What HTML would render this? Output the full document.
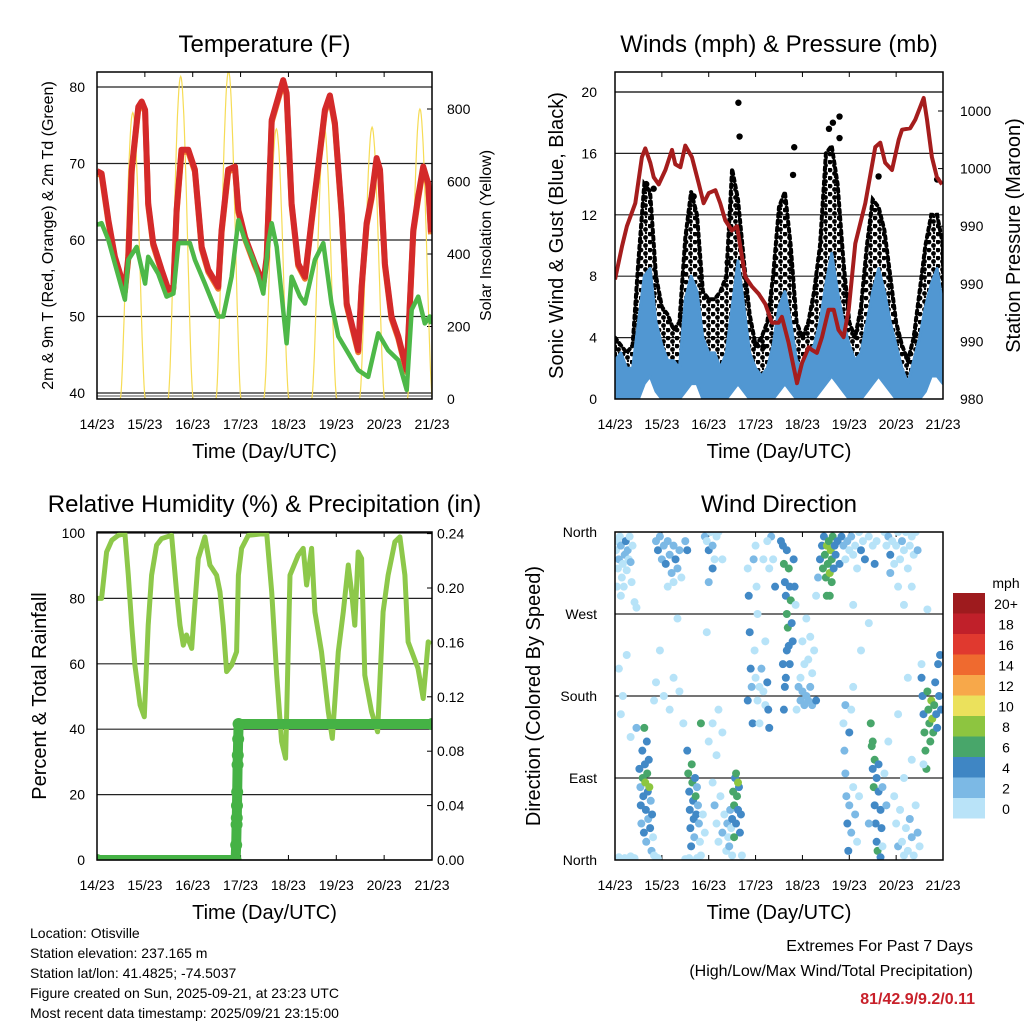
<!DOCTYPE html>
<html><head><meta charset="utf-8"><style>
html,body{margin:0;padding:0;background:#fff}
svg{display:block;font-family:"Liberation Sans",sans-serif}
</style></head><body>
<svg id="c" width="1024" height="1024" viewBox="0 0 1024 1024">
<defs>
<pattern id="dots" width="9" height="8" patternUnits="userSpaceOnUse"><circle cx="2" cy="2" r="2.4" fill="#000"/><circle cx="6.5" cy="5.5" r="2.4" fill="#000"/><circle cx="7" cy="1" r="1.2" fill="#000"/></pattern>
<clipPath id="cp1"><rect x="97" y="72" width="335" height="327"/></clipPath>
<clipPath id="cp2"><rect x="615" y="72" width="328" height="327"/></clipPath>
<clipPath id="cp3"><rect x="97" y="532" width="335" height="328"/></clipPath>
<clipPath id="cp4"><rect x="615" y="532" width="328" height="328"/></clipPath>
</defs>
</svg>
<script>
// ---------- DATA ----------
const dayLabels=["14/23","15/23","16/23","17/23","18/23","19/23","20/23","21/23"];
const tempHours=[0,2.3,5.7,9.0,14.0,15.7,17.4,20.7,22.4,24.1,25.7,28.2,32.4,35.8,38.3,39.9,42.4,45.8,49.1,52.5,55.8,60.8,62.5,65.8,69.2,70.9,74.2,79.2,83.4,85.1,87.6,93.4,95.1,97.6,100.9,104.3,107.6,110.1,114.3,116.8,119.3,122.7,125.2,127.7,131.0,132.7,135.2,137.7,140.2,141.9,144.4,147.7,151.1,155.3,158.6,161.1,163.6,166.1,167.5];
const tempValues=[69,68.7,62.6,57.8,53.5,57.8,69.2,77.4,78.1,77.0,64.8,59.6,56.1,53.5,53.9,63.9,71.8,71.8,69.2,59.1,56.1,53.9,61.3,69.2,69.6,63.9,60.4,56.9,54.3,57.8,75.7,80.9,79.2,64.8,56.9,55.2,62.6,67.8,77.0,78.9,75.3,63.5,51.7,49.1,45.6,53.9,62.2,65.7,70.7,69.2,56.9,50.0,47.4,43.0,61.3,65.7,69.6,67.4,61];
const dewHours=[0,2.3,5.7,9.0,14.0,15.7,19.9,24.1,25.7,30.7,34.9,38.3,40.8,46.6,49.1,54.1,60.8,63.3,67.5,70.9,74.2,79.2,83.4,85.9,87.6,90.1,95.1,97.6,101.8,104.3,109.3,113.5,117.6,121.0,126.0,131.0,136.0,141.0,146.0,151.1,155.3,157.8,161.1,164.4,166.9,167.5];
const dewValues=[62,62.2,60.0,56.9,52.2,57.4,59.1,54.3,57.8,55.6,52.6,53.0,59.6,59.6,57.4,54.3,50.0,50.0,55.2,62.6,60.0,56.9,53.0,59.6,62.2,59.1,46.5,55.2,52.6,51.7,57.4,59.6,51.7,47.4,45.2,43.0,42.1,47.8,45.6,44.3,40.4,50.9,52.6,49.1,50.0,49];
const solarPeaks=[790,890,905,745,750,750,800];
const solarTicks=[0,200,400,600,800];
const tempTicks=[40,50,60,70,80];

const presHours=[0,3.6,6.1,10.4,13.8,15.5,18.1,19.8,22.4,25.8,29.2,30.9,33.5,36.0,39.4,42.8,45.4,48.0,51.4,53.9,56.5,59.9,62.5,65.0,66.7,70.2,73.6,77.0,80.4,83.8,85.5,88.9,93.2,95.8,99.2,100.9,103.4,106.0,109.4,112.0,114.5,117.1,119.7,123.1,128.2,133.3,135.9,138.4,141.9,145.3,147.0,151.2,153.8,158.1,159.8,162.3,164.9,167.5];
const presValues=[988.3,990.6,992.0,993.6,996.8,997.4,996.4,995.4,994.9,995.9,997.3,996.3,996.1,997.6,996.8,995.0,993.6,994.3,994.5,993.6,992.4,991.7,992.0,989.9,988.5,987.8,987.3,986.6,985.3,985.3,985.7,983.9,981.1,982.5,983.6,983.4,983.2,984.3,986.2,986.2,984.8,984.3,986.2,990.8,993.6,997.5,997.8,996.4,995.9,998.0,998.7,998.8,999.4,1000.9,999.4,996.8,995.4,994.9];
const windHours=[0,3,6,9,12,15,18,21,24,27,30,33,36,39,42,45,48,51,54,57,60,63,66,69,72,75,78,81,84,87,90,93,96,99,102,105,108,111,114,117,120,123,126,129,132,135,138,141,144,147,150,153,156,159,162,165,168];
const windHigh=[2.5,3,2,2,5,8,8.5,5,3.5,2.5,2.5,2,6.5,8,7,4,3,3,2,3,6,9,6,3,2,1.5,2,3.5,6,7,5,2.5,2,3,3.5,5,7.5,9.5,7,5,3.5,2.5,3,5,7,8.5,7,5,3.5,2,1,2.5,4,6,7.5,8.5,6];
const windLow=[0,0,0,0,0,1,1.5,0.5,0,0,0,0,0.5,1,1,0,0,0,0,0,0.5,1,0.5,0,0,0,0,0,0.5,1,0.5,0,0,0,0,0.5,1,1.5,1,0.5,0,0,0,0.5,1,1.5,1,0.5,0,0,0,0,0,0.5,1.5,1.5,1];
const gustHigh=[4,3.5,3,3.5,9,14,13.5,8,6,5.5,4.5,5,10.5,13.5,12,7,6.5,6.5,7,8,15,13,9,5.5,3.5,4,5,8,12.5,13.5,10,5,4,5,7,10,16,16.5,14,9,5,4,6,10,13,12.5,11,8,5,3.5,2.5,4,7,10,12,12,10];
const gustLow=[0.5,0.5,0.5,0.5,2,4,4,2,1,0.5,0.5,0.5,2,4,3.5,1.5,1,1,1,1.5,3,4.5,3,1,0.5,0.5,0.5,1,3,4,3,1,0.5,1,1.5,2.5,4,5,4,2,1,0.5,1,2,3.5,4.5,3.5,2,1,0.5,0.5,0.5,1.5,3,4,4.5,3];
const gustOutHours=[63.2,63.8,91.8,91.2,115,111.6,109.6,115,16,19.8,40.3,135,165,57.7,76,153.8];
const gustOutValues=[19.3,17.1,16.4,14.6,18.4,18.0,17.6,17.0,14.0,13.7,13.2,14.5,14.3,8.9,3.4,4.2];
const windTicks=[0,4,8,12,16,20];
const presTickLabels=["980","990","990","990","1000","1000"];

const rhHours=[0,2.3,4.8,7.4,10.7,14.0,15.7,17.4,19.0,21.6,23.7,25.7,27.4,29.9,32.4,37.4,39.9,41.6,43.3,44.9,47.5,48.3,50.8,54.1,56.6,60.0,61.7,63.3,65.0,67.5,70.0,70.9,72.5,75.9,85.1,87.6,90.1,92.6,94.6,96.8,100.9,103.4,105.1,107.6,109.3,112.6,116.0,118.0,121.0,123.5,126.0,127.7,129.3,131.0,132.7,134.3,137.7,140.7,143.5,146.0,149.4,151.9,154.4,156.0,158.5,161.0,163.6,166.1,167.5];
const rhValues=[80,80,94.2,97.8,99.3,99.9,87.1,71.8,59.6,47.4,43.8,71.8,87.1,96.3,98.3,99.3,82.0,71.8,65.7,68.8,64.7,71.8,92.2,98.8,90.2,87.1,82.0,71.8,57.6,59.6,63.7,87.1,95.3,99.3,99.9,82.0,56.5,36.2,31.1,87.1,93.2,95.3,84.1,95.3,75.9,63.7,45.3,37.2,63.7,75.9,90.2,82.0,71.8,94.2,92.2,56.5,45.3,39.2,75.9,87.1,97.3,98.8,87.1,66.7,62.6,58.6,49.4,66.7,66];
const precipHours=[0,69.5,69.8,70.0,70.1,70.2,70.3,70.5,70.6,70.8,71.0,168];
const precipValues=[0,0,0.011,0.026,0.031,0.04,0.05,0.07,0.077,0.089,0.10,0.10];
const rhTicks=[0,20,40,60,80,100];
const precipTicks=["0.00","0.04","0.08","0.12","0.16","0.20","0.24"];

const dirHours=[0.5,1,1.5,2,2.5,3,3.5,4,4.5,5,5.5,6,6.5,7,7.5,8,8.5,9,10,11,3,1,
12.5,13,13.2,13.5,14,14.2,14.5,14.8,15,15.3,15.5,15.8,16,16.3,16.5,16.8,17,17.3,17.6,18,18.3,18.7,19,19.5,20,21,22,2,5,8,10,
21,22,23,24,25,26,27,28,29,30,31,32,33,30,27,34,36,37,32,
2,4,6,3,8,21,25,28,30,33,35,23,20,11,
37,37.5,38,38.3,38.6,39,39.3,39.6,40,40.3,40.6,41,41.3,41.6,42,42.5,43,43.5,44,45,46,44,36,38,42,
46,47,48,49,50,51,52,53,48,50,55,47,
50,51,52,53,54,55,56,57,57.5,58,59,58.5,59.5,60,60.5,61,61.5,62,62.5,63,63.5,64,64.5,62,63,61,60,65,53,55,52,48,50,
68,68.5,69,69.5,70,70.5,68,71,72,72.5,73,71.5,72,73,74,75,76,77,78,78.5,79,77,76,79,80,81,82,78,74,
86,86.5,87,87.5,88,88.5,89,89.5,88,89,89.5,90,90.5,91,91.5,92,92.5,86,87,86.5,87.5,88,85,
94,95,96,97,98,99,100,101,95,97,99,101,103,96,98,100,93,102,
105,106,106.5,107,107.5,108,108.5,109,109.5,110,110.5,111,111.5,112,112.5,113,114,115,116,110,111,108.5,104,103,117,118,
119,120,121,122,123,124,125,126,127,128,130,132,133,134,122,126,130,
117,117.5,118,118.5,119,119.5,118,120,121,122,123,124,125,122,121,120,
131,131.5,132,132.5,133,133.5,134,134.5,132,133,134,135,136,136.5,137,135,137,138,139,140,130,136,
138,139,140,141,142,143,144,145,146,147,148,149,150,151,152,153,154,155,152,145,141,148,160,
143,144,145,146,147,148,149,150,151,152,153,154,155,156,148,152,145,150,
157,157.5,158,158.5,159,159.5,160,160.5,161,161.5,162,162.5,163,163.5,164,164.5,165,165.5,166,166.5,167,158,157];
const dirDegrees=[340,350,320,330,355,345,310,325,300,335,350,318,340,330,355,327,305,345,283,277,290,300,
100,80,60,40,120,90,70,30,145,105,85,55,20,130,95,75,45,110,80,35,65,10,50,25,5,3,2,3,2,4,2,
350,340,355,330,345,325,350,335,315,345,330,320,340,305,300,310,350,340,265,
210,180,225,160,135,195,180,165,200,185,150,230,175,145,
120,95,75,55,35,15,105,85,65,45,25,90,70,50,80,60,40,20,5,50,30,150,1,2,2,
355,350,340,360,345,330,355,360,305,320,330,250,
85,60,40,20,70,30,50,10,40,25,55,15,35,45,75,60,90,40,70,55,80,30,50,95,85,25,5,5,165,140,115,130,150,
320,290,250,210,190,150,175,330,345,300,270,230,200,175,190,210,185,170,195,165,145,240,330,320,355,330,300,350,150,
345,325,305,290,270,255,235,215,340,320,300,285,260,240,330,300,280,215,190,165,200,230,350,
190,175,185,170,180,175,190,170,200,215,220,205,175,240,265,245,165,230,
330,345,320,355,335,310,345,325,350,315,340,330,355,320,345,335,350,325,355,290,305,290,310,290,345,330,
350,340,355,335,345,320,360,340,350,330,355,345,325,350,280,230,260,
150,120,95,70,40,10,170,60,30,80,50,20,70,190,165,140,
150,125,100,80,60,40,20,10,130,110,90,75,55,35,15,105,80,95,60,130,40,3,
360,345,355,335,350,325,345,360,330,350,340,360,320,345,355,335,360,340,300,300,315,280,275,
70,40,15,55,20,5,35,10,45,25,5,60,30,15,90,110,160,200,
200,180,160,140,120,100,185,165,150,130,175,155,140,170,195,160,145,215,180,225,165,105,215];
const dirSpeeds=[1,1,1,2.5,1,3,1,1,1,2.5,4.5,1,3,1,1,2.5,1,1,1,1,1,1,
4.5,3,4.5,2.5,4.5,6.5,4.5,4.5,6.5,4.5,8.5,4.5,2.5,4.5,6.5,4.5,2.5,4.5,8.5,4.5,2.5,2.5,4.5,1,1,1,1,1,1,1,1,
2.5,4.5,2.5,2.5,2.5,4.5,2.5,2.5,2.5,2.5,4.5,2.5,2.5,1,1,1,2.5,4.5,1,
1,1,1,1,1,1,1,1,1,1,1,1,1,2.5,
4.5,6.5,4.5,4.5,4.5,4.5,6.5,6.5,4.5,4.5,2.5,4.5,6.5,4.5,2.5,2.5,2.5,1,1,1,1,6.5,1,1,1,
2.5,1,4.5,1,2.5,1,1,1,2.5,4.5,1,1,
1,2.5,1,1,1,2.5,1,1,2.5,1,2.5,2.5,1,4.5,6.5,6.5,4.5,4.5,6.5,4.5,4.5,4.5,4.5,6.5,8.5,6.5,1,1,1,1,1,1,1,
1,4.5,4.5,4.5,2.5,4.5,4.5,2.5,1,1,1,1,1,1,1,2.5,1,1,4.5,4.5,4.5,1,1,1,2.5,1,4.5,1,1,
4.5,6.5,4.5,4.5,6.5,6.5,4.5,4.5,4.5,6.5,4.5,6.5,4.5,4.5,4.5,4.5,1,4.5,4.5,4.5,4.5,4.5,4.5,
2.5,2.5,2.5,2.5,2.5,2.5,2.5,2.5,1,1,1,1,4.5,1,1,1,1,1,
4.5,4.5,6.5,4.5,6.5,6.5,8.5,6.5,6.5,8.5,8.5,6.5,6.5,4.5,4.5,4.5,4.5,4.5,4.5,6.5,6.5,6.5,2.5,1,2.5,1,
2.5,1,2.5,1,1,1,1,4.5,1,4.5,1,1,4.5,1,1,1,1,
1,2.5,2.5,2.5,4.5,4.5,2.5,2.5,2.5,1,2.5,1,1,1,1,4.5,
6.5,6.5,4.5,6.5,4.5,4.5,4.5,6.5,6.5,6.5,4.5,4.5,4.5,4.5,1,4.5,2.5,1,2.5,1,2.5,4.5,
1,1,2.5,4.5,1,1,1,1,1,2.5,1,1,1,1,1,1,1,2.5,1,1,2.5,1,1,
1,1,2.5,1,1,1,1,1,2.5,2.5,1,1,2.5,1,1,1,1,1,
4.5,4.5,4.5,6.5,6.5,6.5,6.5,6.5,6.5,6.5,8.5,8.5,6.5,6.5,4.5,4.5,4.5,4.5,4.5,4.5,4.5,1,1];
const dirTickLabels=["North","East","South","West","North"];
const cbLabels=["20+","18","16","14","12","10","8","6","4","2","0"];
const cbColors=["#9e1b1e","#c0202a","#e0392f","#ef6a2f","#f7a84a","#ebe15c","#8dc540","#48a66a","#3f86c4","#7cb9e5","#b9e3f8"];

// ---------- HELPERS ----------
const NS="http://www.w3.org/2000/svg";
const svg=document.getElementById('c');
function mk(tag,attrs,parent){const e=document.createElementNS(NS,tag);for(const k in attrs)e.setAttribute(k,attrs[k]);(parent||svg).appendChild(e);return e;}
function txt(s,x,y,size,anchor,parent,extra){const e=mk('text',Object.assign({x:x,y:y,'font-size':size,'text-anchor':anchor||'middle',fill:'#000'},extra||{}),parent);e.textContent=s;return e;}
const P1={x0:97,x1:432,y0:72,y1:399},P2={x0:615,x1:943,y0:72,y1:399},P3={x0:97,x1:432,y0:532,y1:860},P4={x0:615,x1:943,y0:532,y1:860};
function xs(P,h){return P.x0+h/168*(P.x1-P.x0);}
const yT=v=>393-(v-40)*7.65, yS=v=>399-v*0.3625, yW=v=>399-v*15.35, yP=v=>399-(v-980)*14.4;
const yRH=v=>860-v*3.27, yPr=v=>860-v*1360, yD=v=>860-v*0.9111;
function pts(P,hs,vs,fy){return hs.map((h,i)=>xs(P,h).toFixed(1)+','+fy(vs[i]).toFixed(1)).join(' ');}

function frame(P,name,title,leftTitle,rightTitle,ltSize,rtSize,ltX,rtX){
  const g=mk('g',{});
  
  
  const t=txt(title,(P.x0+P.x1)/2,P.y0-20,24,'middle',g);
  
  
  const xt=txt('Time (Day/UTC)',(P.x0+P.x1)/2,P.y1+59,20,'middle',g);
  
  
  const cy=(P.y0+P.y1)/2;
  const lt=txt(leftTitle,ltX,cy,ltSize,'middle',g,{transform:'rotate(-90 '+ltX+' '+cy+')'});
  
  
  if(rightTitle){const rt=txt(rightTitle,rtX,cy,rtSize,'middle',g,{transform:'rotate(-90 '+rtX+' '+cy+')'});
  
  }
  dayLabels.forEach((d,i)=>{const x=xs(P,i*24);
    const l=txt(d,x,P.y1+30,14,'middle',g);
    
    
    mk('line',{x1:x,x2:x,y1:P.y1,y2:P.y1-5,stroke:'#000','stroke-width':1},g);
    mk('line',{x1:x,x2:x,y1:P.y0,y2:P.y0+5,stroke:'#000','stroke-width':1},g);});
  return g;
}
function box(P){const r=mk('rect',{x:P.x0,y:P.y0,width:P.x1-P.x0,height:P.y1-P.y0,fill:'none',stroke:'#000','stroke-width':1.5});
  
  }
function grid(P,y,g){mk('line',{x1:P.x0,x2:P.x1,y1:y,y2:y,stroke:'#222','stroke-width':1.2},g);}

// ---------- PANEL 1: TEMPERATURE ----------
let g=frame(P1,'temperature-panel','Temperature (F)','2m & 9m T (Red, Orange) & 2m Td (Green)','Solar Insolation (Yellow)',16,16,53,491);
tempTicks.forEach(v=>{const y=yT(v);grid(P1,y,g);const l=txt(String(v),85,y+5,14,'end',g);
  
  });
solarTicks.forEach(v=>{const y=yS(v);mk('line',{x1:P1.x1,x2:P1.x1-5,y1:y,y2:y,stroke:'#000'},g);const l=txt(String(v),447,y+5,14,'start',g);
  
  });
mk('line',{x1:P1.x0,x2:P1.x1,y1:P1.y1-3,y2:P1.y1-3,stroke:'#888','stroke-width':1.5},g);
let c1=mk('g',{'clip-path':'url(#cp1)'});
solarPeaks.forEach((pk,d)=>{const a=[];for(let k=0;k<=40;k++){const h=d*24+11.7+k*(12.5/40);const s=Math.sin(Math.PI*k/40);a.push(xs(P1,h).toFixed(1)+','+yS(pk*Math.pow(s,1.6)).toFixed(1));}
  const l=mk('polyline',{points:a.join(' '),fill:'none',stroke:'#f6dc55','stroke-width':1.2},c1);
  
  });
let l1=mk('polyline',{points:pts(P1,tempHours,tempValues,v=>yT(v)+2),fill:'none',stroke:'#f0792e','stroke-width':6,'stroke-linejoin':'round'},c1);


let l2=mk('polyline',{points:pts(P1,tempHours,tempValues,yT),fill:'none',stroke:'#d42a2a','stroke-width':6,'stroke-linejoin':'round'},c1);


let l3=mk('polyline',{points:pts(P1,dewHours,dewValues,yT),fill:'none',stroke:'#4db848','stroke-width':4.5,'stroke-linejoin':'round'},c1);


box(P1);

// ---------- PANEL 2: WINDS ----------
g=frame(P2,'winds-panel','Winds (mph) & Pressure (mb)','Sonic Wind & Gust (Blue, Black)','Station Pressure (Maroon)',20,20,563,1020);
windTicks.forEach(v=>{const y=yW(v);if(v>0)grid(P2,y,g);const l=txt(String(v),597,y+5,14,'end',g);
  
  });
presTickLabels.forEach((s,i)=>{const y=399-i*57.6;mk('line',{x1:P2.x1,x2:P2.x1-5,y1:y,y2:y,stroke:'#000'},g);const l=txt(s,960,y+5,14,'start',g);
  
  });
mk('line',{x1:P2.x0,x2:P2.x1,y1:92,y2:92,stroke:'#222','stroke-width':1.2},g);
let c2=mk('g',{'clip-path':'url(#cp2)'});
let gb=mk('polygon',{points:pts(P2,windHours,gustHigh,yW)+' '+pts(P2,windHours.slice().reverse(),gustLow.slice().reverse(),yW),fill:'url(#dots)',stroke:'#000','stroke-width':4,'stroke-dasharray':'3 4','stroke-linecap':'round'},c2);


gustOutHours.forEach((h,i)=>{const c=mk('circle',{cx:xs(P2,h),cy:yW(gustOutValues[i]),r:3.2,fill:'#000'},c2);
  
  });
let wb=mk('polygon',{points:pts(P2,windHours,windHigh,yW)+' '+pts(P2,windHours.slice().reverse(),windLow.slice().reverse(),yW),fill:'#5197d2',stroke:'#5197d2','stroke-width':3,'stroke-linejoin':'round'},c2);


let pl=mk('polyline',{points:pts(P2,presHours,presValues,yP),fill:'none',stroke:'#a51d1d','stroke-width':4,'stroke-linejoin':'round'},c2);


box(P2);

// ---------- PANEL 3: RH & PRECIP ----------
g=frame(P3,'humidity-panel','Relative Humidity (%) & Precipitation (in)','Percent & Total Rainfall',null,20,20,46,0);
rhTicks.forEach(v=>{const y=yRH(v);grid(P3,y,g);const l=txt(String(v),85,y+5,14,'end',g);
  
  });
precipTicks.forEach((s,i)=>{const y=yPr(parseFloat(s));mk('line',{x1:P3.x1,x2:P3.x1-5,y1:y,y2:y,stroke:'#000'},g);const l=txt(s,437,y+5,14,'start',g);
  
  });
let c3=mk('g',{'clip-path':'url(#cp3)'});
let rl=mk('polyline',{points:pts(P3,rhHours,rhValues,yRH),fill:'none',stroke:'#8dc84a','stroke-width':5,'stroke-linejoin':'round'},c3);


let prl=mk('polyline',{points:pts(P3,precipHours,precipValues,yPr),fill:'none',stroke:'#45b245','stroke-width':10,'stroke-linecap':'round','stroke-linejoin':'round'},c3);


precipHours.forEach((h,i)=>{const c=mk('circle',{cx:xs(P3,h),cy:yPr(precipValues[i]),r:6,fill:'#45b245'},c3);
  
  });
box(P3);

// ---------- PANEL 4: WIND DIRECTION ----------
g=frame(P4,'wind-direction-panel','Wind Direction','Direction (Colored By Speed)',null,20,20,540,0);
dirTickLabels.forEach((s,i)=>{const y=yD(i*90);if(i>0&&i<4)grid(P4,y,g);const l=txt(s,597,y+5,14,'end',g);
  
  });
let c4=mk('g',{'clip-path':'url(#cp4)'});
function spdColor(s){return s<2?'#b7e3f8':s<4?'#7cb9e5':s<6?'#4289c6':s<8?'#48a66a':'#8cc63f';}
dirHours.forEach((h,i)=>{const c=mk('circle',{cx:xs(P4,h),cy:yD(dirDegrees[i]),r:4,fill:spdColor(dirSpeeds[i])},c4);
  
  });
box(P4);
let cb=mk('g',{});


const m=txt('mph',1006,588,14,'middle',cb);


cbColors.forEach((col,i)=>{const y=593+i*20.5;mk('rect',{x:953,y:y,width:32,height:20.5,fill:col},cb);
  const l=txt(cbLabels[i],1006,y+16,14,'middle',cb);
  
  });

// ---------- FOOTER ----------
const foot=["Location: Otisville","Station elevation: 237.165 m","Station lat/lon: 41.4825; -74.5037","Figure created on Sun, 2025-09-21, at 23:23 UTC","Most recent data timestamp: 2025/09/21 23:15:00"];
foot.forEach((s,i)=>{const l=txt(s,30,938+i*20,14,'start');
  
  });
let e1=txt('Extremes For Past 7 Days',973,951,16,'end');


let e2=txt('(High/Low/Max Wind/Total Precipitation)',973,976,16,'end');


let e3=txt('81/42.9/9.2/0.11',975,1004,16,'end',null,{fill:'#c8202a','font-weight':'bold'});


</script>
</body></html>
